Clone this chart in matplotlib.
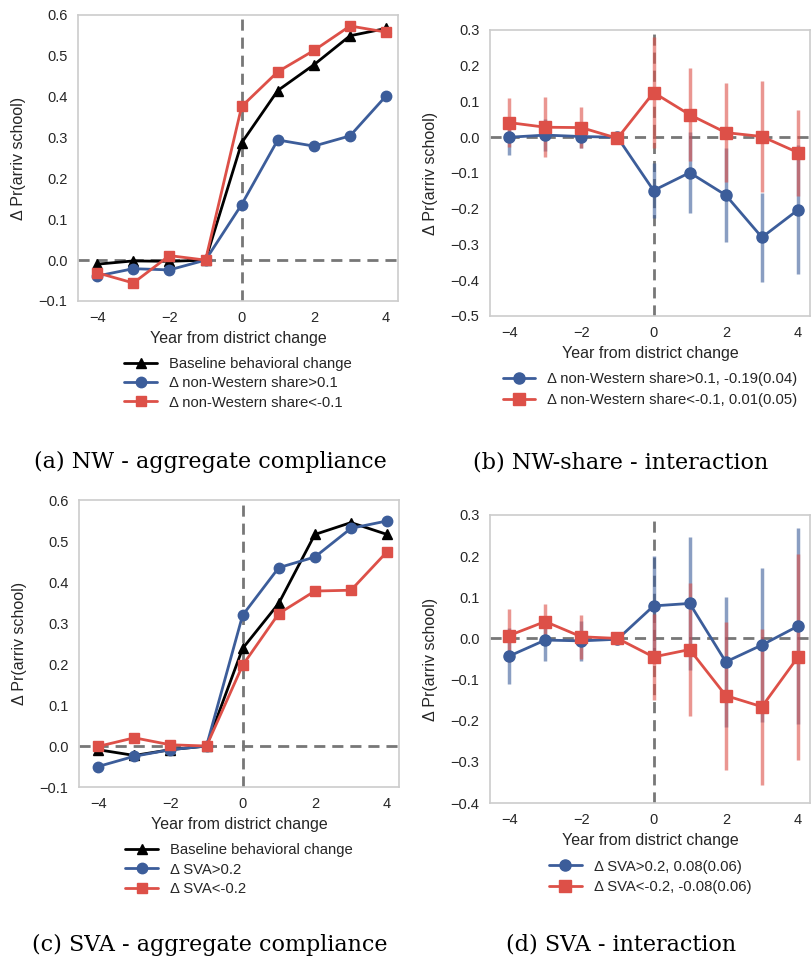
import matplotlib
matplotlib.use("Agg")
import matplotlib.pyplot as plt
import seaborn as sns

sns.set_style("whitegrid")
plt.rcParams['font.family'] = ['Liberation Sans', 'DejaVu Sans']

years = [-4, -3, -2, -1, 0, 1, 2, 3, 4]

# (a) NW - aggregate compliance
a_base = [-0.010, -0.002, -0.003, 0.0, 0.287, 0.415, 0.478, 0.549, 0.567]
a_hi = [-0.039, -0.021, -0.024, 0.0, 0.136, 0.294, 0.279, 0.304, 0.402]
a_lo = [-0.031, -0.056, 0.011, 0.0, 0.376, 0.461, 0.513, 0.573, 0.558]

# (b) NW-share - interaction
b_hi = [0.000, 0.006, 0.002, 0.0, -0.149, -0.099, -0.162, -0.280, -0.203]
b_hi_err = [0.050, 0.045, 0.033, 0.0, 0.078, 0.114, 0.132, 0.124, 0.180]
b_lo = [0.041, 0.028, 0.027, -0.003, 0.125, 0.063, 0.013, 0.002, -0.043]
b_lo_err = [0.068, 0.084, 0.057, 0.0, 0.155, 0.130, 0.138, 0.155, 0.120]

# (c) SVA - aggregate compliance
c_base = [-0.009, -0.023, -0.009, 0.0, 0.238, 0.348, 0.516, 0.545, 0.516]
c_hi = [-0.050, -0.025, -0.009, 0.0, 0.319, 0.435, 0.461, 0.531, 0.549]
c_lo = [-0.001, 0.020, 0.003, 0.0, 0.197, 0.323, 0.378, 0.380, 0.474]

# (d) SVA - interaction
d_hi = [-0.043, -0.004, -0.006, -0.002, 0.079, 0.085, -0.057, -0.016, 0.030]
d_hi_err = [0.068, 0.051, 0.049, 0.0, 0.121, 0.162, 0.158, 0.186, 0.238]
d_lo = [0.007, 0.041, 0.004, 0.0, -0.045, -0.027, -0.139, -0.166, -0.045]
d_lo_err = [0.064, 0.042, 0.053, 0.0, 0.104, 0.162, 0.180, 0.190, 0.250]

blue = '#3c5d9a'
red = '#dd5048'
gray = '#777777'

fig = plt.figure(figsize=(8.12, 9.64), dpi=100)


def style_axes(ax, ylim, yticks):
    ax.grid(False)
    for s in ax.spines.values():
        s.set_color('#cccccc')
        s.set_linewidth(1.2)
    ax.set_xlim(-4.53, 4.33)
    ax.set_ylim(*ylim)
    ax.set_xticks([-4, -2, 0, 2, 4])
    ax.set_yticks(yticks)
    ax.set_yticklabels([f"{t:.1f}".replace('-', '\u2212') for t in yticks])
    ax.tick_params(labelsize=10.5, colors='#262626', pad=4)
    ax.axhline(0, color=gray, ls='--', lw=2, dashes=(4, 2.5), zorder=1)
    ax.axvline(0, color=gray, ls='--', lw=2, dashes=(4, 2.5), zorder=1)
    ax.set_xlabel("Year from district change", fontsize=11.5, color='#262626', labelpad=4)
    ax.set_ylabel("\u0394 Pr(arriv school)", fontsize=11.5, color='#262626', labelpad=9)


def aggregate(rect, base, hi, lo, lab_hi, lab_lo):
    ax = fig.add_axes(rect)
    ax.plot(years, base, color='black', marker='^', ms=7, lw=2, label='Baseline behavioral change', zorder=3)
    ax.plot(years, hi, color=blue, marker='o', ms=7.5, lw=2, label=lab_hi, zorder=3)
    ax.plot(years, lo, color=red, marker='s', ms=7.5, lw=2, label=lab_lo, zorder=3)
    style_axes(ax, (-0.1, 0.6), [-0.1, 0.0, 0.1, 0.2, 0.3, 0.4, 0.5, 0.6])
    ax.legend(loc='upper center', bbox_to_anchor=(0.5, -0.16), frameon=False,
              fontsize=10.7, handlelength=2.2, labelspacing=0.35, borderpad=0.2)
    return ax


def interaction(rect, hi, hi_err, lo, lo_err, lab_hi, lab_lo, ylim, yticks):
    ax = fig.add_axes(rect)
    ax.errorbar(years, hi, yerr=hi_err, fmt='none', ecolor=blue, elinewidth=2.5, alpha=0.6, zorder=2)
    ax.errorbar(years, lo, yerr=lo_err, fmt='none', ecolor=red, elinewidth=2.5, alpha=0.6, zorder=2)
    ax.plot(years, hi, color=blue, marker='o', ms=8, lw=2, label=lab_hi, zorder=3)
    ax.plot(years, lo, color=red, marker='s', ms=8, lw=2, label=lab_lo, zorder=3)
    style_axes(ax, ylim, yticks)
    ax.legend(loc='upper center', bbox_to_anchor=(0.5, -0.16), frameon=False,
              fontsize=10.7, handlelength=2.2, labelspacing=0.45, borderpad=0.2)
    return ax


aggregate([0.0961, 0.6878, 0.3941, 0.2967], a_base, a_hi, a_lo,
          "\u0394 non-Western share>0.1", "\u0394 non-Western share<-0.1")
interaction([0.6034, 0.6722, 0.3941, 0.2967], b_hi, b_hi_err, b_lo, b_lo_err,
            "\u0394 non-Western share>0.1, -0.19(0.04)", "\u0394 non-Western share<-0.1, 0.01(0.05)",
            (-0.5, 0.3), [-0.5, -0.4, -0.3, -0.2, -0.1, 0.0, 0.1, 0.2, 0.3])
aggregate([0.0973, 0.1836, 0.3941, 0.2977], c_base, c_hi, c_lo,
          "\u0394 SVA>0.2", "\u0394 SVA<-0.2")
interaction([0.6034, 0.1670, 0.3941, 0.2988], d_hi, d_hi_err, d_lo, d_lo_err,
            "\u0394 SVA>0.2, 0.08(0.06)", "\u0394 SVA<-0.2, -0.08(0.06)",
            (-0.4, 0.3), [-0.4, -0.3, -0.2, -0.1, 0.0, 0.1, 0.2, 0.3])

cap = dict(family='DejaVu Serif', fontsize=16, ha='center', va='center', color='black')
fig.text(210 / 812, 1 - 462 / 964, "(a) NW - aggregate compliance", **cap)
fig.text(621 / 812, 1 - 462 / 964, "(b) NW-share - interaction", **cap)
fig.text(210 / 812, 1 - 945 / 964, "(c) SVA - aggregate compliance", **cap)
fig.text(621 / 812, 1 - 945 / 964, "(d) SVA - interaction", **cap)

fig.savefig("out.png", dpi=100)
